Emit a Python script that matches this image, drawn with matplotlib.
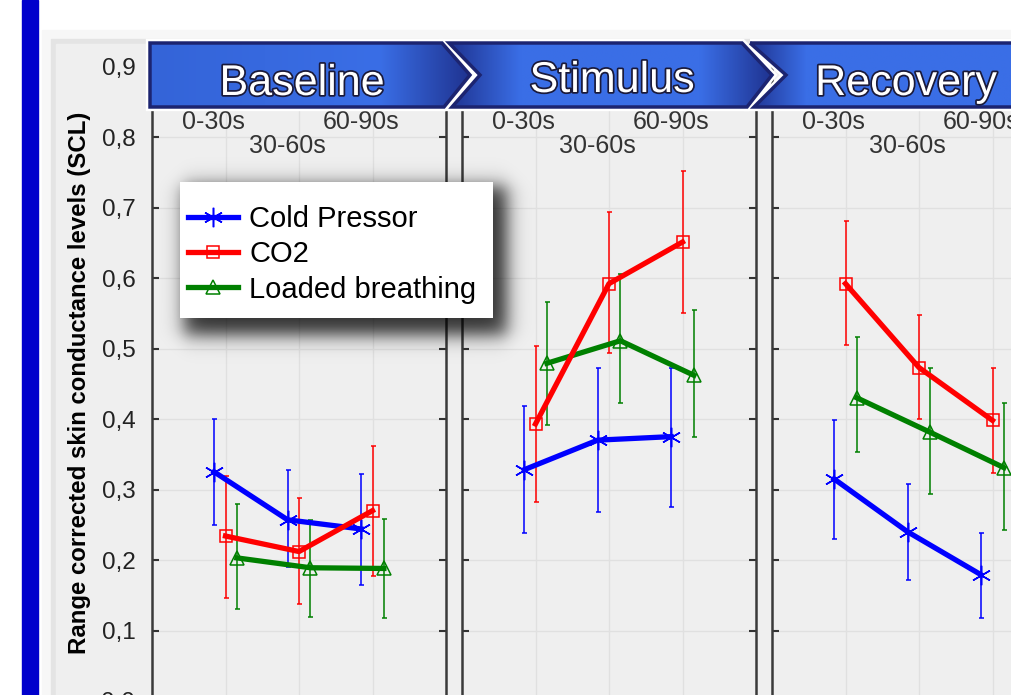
import numpy as np
import matplotlib
matplotlib.use("Agg")
import matplotlib.pyplot as plt
from matplotlib.patches import Polygon, Rectangle
from matplotlib.colors import LinearSegmentedColormap
from matplotlib.ticker import FuncFormatter, MultipleLocator
import matplotlib.patheffects as pe

plt.rcParams['font.family'] = ['Liberation Sans', 'DejaVu Sans']

W, H = 1011, 695

phases = ["Baseline", "Stimulus", "Recovery"]
time_bins = ["0-30s", "30-60s", "60-90s"]
series_names = ["Cold Pressor", "CO2", "Loaded breathing"]

# 9 values each: Baseline (3 bins), Stimulus (3 bins), Recovery (3 bins)
cp_mean = [0.325, 0.257, 0.244, 0.328, 0.370, 0.375, 0.315, 0.240, 0.179]
cp_upper = [0.400, 0.327, 0.322, 0.419, 0.473, 0.473, 0.399, 0.308, 0.239]
cp_lower = [0.250, 0.190, 0.165, 0.238, 0.268, 0.275, 0.230, 0.171, 0.118]

co2_mean = [0.234, 0.212, 0.270, 0.393, 0.592, 0.651, 0.592, 0.473, 0.398]
co2_upper = [0.319, 0.288, 0.361, 0.503, 0.694, 0.752, 0.681, 0.547, 0.473]
co2_lower = [0.146, 0.137, 0.177, 0.282, 0.493, 0.550, 0.505, 0.400, 0.323]

lb_mean = [0.203, 0.189, 0.188, 0.479, 0.511, 0.462, 0.430, 0.381, 0.331]
lb_upper = [0.279, 0.257, 0.258, 0.566, 0.606, 0.554, 0.516, 0.473, 0.422]
lb_lower = [0.131, 0.119, 0.118, 0.392, 0.422, 0.374, 0.353, 0.294, 0.243]

means = [cp_mean, co2_mean, lb_mean]
uppers = [cp_upper, co2_upper, lb_upper]
lowers = [cp_lower, co2_lower, lb_lower]

colors = ["#0000ff", "#ff0000", "#008000"]
markers = [(6, 2, 0), "s", "^"]
msizes = [14, 8, 10]
offsets = [-0.155, 0.0, 0.155]
zords = [3, 5, 4]

fig = plt.figure(figsize=(W / 100, H / 100), dpi=100)
fig.patch.set_facecolor("white")

# background frame (pixel coordinates, y down)
bg = fig.add_axes([0, 0, 1, 1], zorder=0)
bg.set_xlim(0, W); bg.set_ylim(H, 0); bg.axis("off")
bg.add_patch(Rectangle((22, 0), 16, H, color="#0000cc"))
bg.add_patch(Rectangle((42, 30), W, H, color="#f7f7f7"))
bg.add_patch(Rectangle((51, 39), W, H, color="#e4e4e4"))
bg.add_patch(Rectangle((56, 44), W, H, color="#efefef"))

ymax = 0.93
px_per_unit = 705.0
bottom_px = 701.0
top_px = bottom_px - ymax * px_per_unit
lefts = [152, 462, 772]
panel_w = 294

axes = []
handles = []
for p in range(3):
    ax = fig.add_axes([lefts[p] / W, 1 - bottom_px / H, panel_w / W, (bottom_px - top_px) / H], zorder=1)
    ax.set_facecolor("none")
    x = np.arange(1, 4)
    for s in range(3):
        m = np.array(means[s][3 * p:3 * p + 3])
        up = np.array(uppers[s][3 * p:3 * p + 3])
        lo = np.array(lowers[s][3 * p:3 * p + 3])
        ax.errorbar(x + offsets[s], m, yerr=[m - lo, up - m], fmt="none", ecolor=colors[s],
                    elinewidth=1.1, capsize=1.8, capthick=1.1, zorder=2)
        ln, = ax.plot(x + offsets[s], m, color=colors[s], lw=3.8, marker=markers[s], ms=msizes[s],
                      mfc="none", mec=colors[s], mew=1.1, zorder=zords[s])
        if p == 0:
            handles.append(ln)
    ax.set_xlim(0, 4)
    ax.set_ylim(0, ymax)
    ax.set_xticks([1, 2, 3])
    ax.yaxis.set_major_locator(MultipleLocator(0.1))
    ax.yaxis.set_major_formatter(FuncFormatter(lambda v, _: f"{v:.1f}".replace(".", ",")))
    ax.tick_params(axis="x", length=0, labelbottom=False)
    ax.tick_params(axis="y", direction="in", left=True, right=True, length=5, width=1.5,
                   color="#333333", labelleft=(p == 0), labelsize=17.5, pad=12, labelcolor="#222222")
    ax.grid(True, color="#e0e0e0", lw=1)
    ax.set_axisbelow(True)
    for side in ["left", "right"]:
        ax.spines[side].set_color("#3a3a3a")
        ax.spines[side].set_linewidth(1.8)
    ax.spines["top"].set_visible(False)
    ax.spines["bottom"].set_visible(False)
    for t, lab in enumerate(time_bins):
        yy = 0.787 if t == 1 else 0.821
        ax.text(t + 1 - 0.16, yy, lab, ha="center", va="center", fontsize=18, color="#333333")
    axes.append(ax)

axes[0].set_ylabel("Range corrected skin conductance levels (SCL)", fontsize=17.3, fontweight="bold")
axes[0].yaxis.set_label_coords((91 - 152) / panel_w, (bottom_px - 383) / (bottom_px - top_px))

# header chevrons
deco = fig.add_axes([0, 0, 1, 1], zorder=3)
deco.set_xlim(0, W); deco.set_ylim(H, 0); deco.axis("off")
deco.set_autoscale_on(False)
bright, dark = "#3a6ee6", "#1f3390"
banners = [
    ([(150, 43), (442, 43), (470, 75), (444, 107), (150, 107)],
     [(0, "#3464d8"), (0.72, bright), (1, dark)], (302, 95)),
    ([(449, 43), (742, 43), (772, 75), (747, 107), (452, 107), (480, 75)],
     [(0, dark), (0.22, bright), (0.78, bright), (1, dark)], (612, 92)),
    ([(750, 43), (1030, 43), (1030, 107), (754, 107), (786, 75)],
     [(0, dark), (0.2, bright), (1, bright)], (906, 95)),
]
for (verts, stops, (tx, ty)), name in zip(banners, phases):
    xs = [v[0] for v in verts]
    deco.add_patch(Polygon(verts, closed=True, fc="none", ec="white", lw=6, zorder=1))
    clip = Polygon(verts, closed=True, fc="none", ec="none", zorder=2)
    deco.add_patch(clip)
    cmap = LinearSegmentedColormap.from_list("b", stops)
    grad = np.linspace(0, 1, 256)[None, :]
    im = deco.imshow(grad, extent=(min(xs), max(xs), 107, 43), aspect="auto", cmap=cmap, zorder=2)
    im.set_clip_path(clip)
    deco.add_patch(Polygon(verts, closed=True, fc="none", ec="#1c2470", lw=2.5, joinstyle="miter", zorder=3))
    deco.text(tx, ty, name, ha="center", va="baseline", fontsize=31, color="white", zorder=4,
              path_effects=[pe.withStroke(linewidth=2.5, foreground="#1a1a3a")])

# legend box with a soft drop shadow
box_x0, box_y0, box_x1, box_y1 = 180, 182, 493, 318
sx = np.arange(W) + 0.5
sy = np.arange(H) + 0.5
sig = 11.0
fx = 0.5 * (np.tanh((sx - box_x0 - 4) / sig) - np.tanh((sx - box_x1 - 14) / sig))
fy = 0.5 * (np.tanh((sy - box_y0 - 4) / sig) - np.tanh((sy - box_y1 - 17) / sig))
shadow = np.zeros((H, W, 4))
shadow[..., 3] = 0.8 * np.outer(fy, fx)
deco.imshow(shadow, extent=(0, W, H, 0), aspect="auto", zorder=5, interpolation="bilinear")
deco.add_patch(Rectangle((box_x0, box_y0), box_x1 - box_x0, box_y1 - box_y0, fc="white", ec="none", zorder=6))
deco.set_xlim(0, W); deco.set_ylim(H, 0)

leg = fig.legend(handles, series_names, loc="upper left", bbox_to_anchor=(188 / W, 1 - 205 / H),
                 bbox_transform=fig.transFigure, frameon=False, fontsize=21, handlelength=1.7,
                 handletextpad=0.4, labelspacing=0.25, borderpad=0, borderaxespad=0)
leg.set_zorder(6)

fig.savefig("out.png", dpi=100)
